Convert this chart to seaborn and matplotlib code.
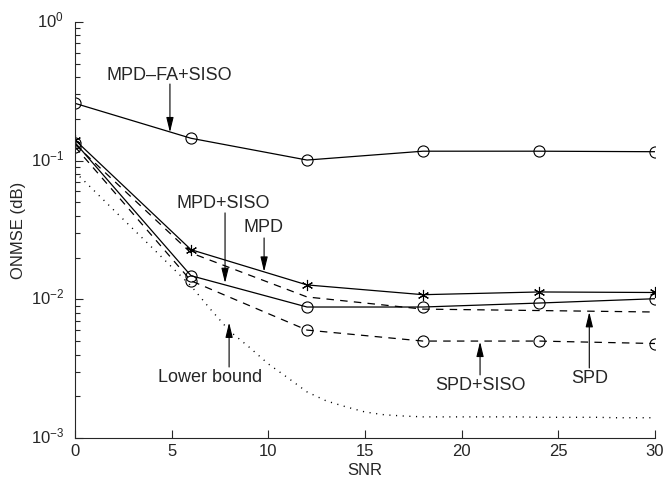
import numpy as np
import pandas as pd
import seaborn as sns
import matplotlib
matplotlib.use("Agg")
import matplotlib.pyplot as plt
import matplotlib.transforms as mtransforms

# data
snr = [0, 6, 12, 18, 24, 30]
mpd_fa_siso = [0.259, 0.145, 0.101, 0.117, 0.117, 0.116]
mpd = [0.141, 0.0228, 0.0127, 0.0108, 0.0113, 0.0112]
mpd_siso = [0.135, 0.0148, 0.0088, 0.0088, 0.0094, 0.0101]
spd = [0.131, 0.0216, 0.0104, 0.0085, 0.0083, 0.0081]
spd_siso = [0.126, 0.0136, 0.0060, 0.0050, 0.0050, 0.0048]

snr_lb = list(range(0, 31))
lower_bound = [0.0829, 0.0605, 0.0441, 0.0322, 0.0235, 0.0171, 0.0125, 0.0085,
               0.0059, 0.00453, 0.00342, 0.00272, 0.00215, 0.00185, 0.00168,
               0.00154, 0.00147, 0.00144, 0.00142, 0.00142, 0.00142, 0.00142,
               0.00142, 0.00142, 0.00141, 0.00141, 0.00141, 0.00141, 0.00140,
               0.00140, 0.00140]

sns.set_style("ticks")
plt.rcParams["font.family"] = ["Liberation Sans", "DejaVu Sans"]
plt.rcParams["mathtext.fontset"] = "custom"
plt.rcParams["mathtext.rm"] = "Liberation Sans"
plt.rcParams["mathtext.it"] = "Liberation Sans:italic"

fig = plt.figure(figsize=(6.65, 4.82), dpi=100)
ax = fig.add_axes([0.1128, 0.0913, 0.8722, 0.8631])

lw = 0.9
circ = dict(marker="o", markersize=8, markerfacecolor="none",
            markeredgecolor="k", markeredgewidth=0.8)
star = dict(marker=(6, 2, 0), markersize=8, markeredgecolor="k",
            markeredgewidth=0.8)

sns.lineplot(x=snr, y=mpd_fa_siso, ax=ax, color="k", lw=lw, **circ)
sns.lineplot(x=snr, y=mpd, ax=ax, color="k", lw=lw, **star)
sns.lineplot(x=snr, y=mpd_siso, ax=ax, color="k", lw=lw, **circ)
sns.lineplot(x=snr, y=spd, ax=ax, color="k", lw=lw, linestyle=(0, (6, 5)))
sns.lineplot(x=snr, y=spd_siso, ax=ax, color="k", lw=lw,
             linestyle=(0, (6, 5)), **circ)
sns.lineplot(x=snr_lb, y=lower_bound, ax=ax, color="k", lw=1.0,
             linestyle=(0, (0.8, 4)))

ax.set_yscale("log")
ax.set_xlim(0, 30)
ax.set_ylim(1e-3, 1)
ax.set_xticks([0, 5, 10, 15, 20, 25, 30])
ax.set_xlabel("SNR", fontsize=12, labelpad=3)
ax.set_ylabel("ONMSE (dB)", fontsize=12, labelpad=3)
ax.tick_params(axis="both", which="major", direction="in", length=6,
               width=0.8, labelsize=12)
ax.tick_params(axis="x", pad=4.5)
ax.tick_params(axis="y", pad=8)
ax.tick_params(axis="y", which="minor", direction="in", length=3.5, width=0.8)
sns.despine(ax=ax)
for s in ["left", "bottom"]:
    ax.spines[s].set_linewidth(0.8)

# MATLAB puts the 10^n labels a little above their ticks
shift = mtransforms.ScaledTranslation(0, 3 / 100, fig.dpi_scale_trans)
for lab in ax.get_yticklabels():
    lab.set_transform(lab.get_transform() + shift)

arrow = dict(arrowstyle="-|>,head_length=0.9,head_width=0.22", color="k",
             lw=0.8, shrinkA=0, shrinkB=0)
# label, text position, arrow x, arrow base y, arrow tip y
notes = [
    ("MPD\u2013FA+SISO", (4.86, 0.414), 4.91, 0.357, 0.160),
    ("MPD+SISO", (7.66, 0.0495), 7.76, 0.0420, 0.0131),
    ("MPD", (9.73, 0.0327), 9.78, 0.0277, 0.0158),
    ("Lower bound", (6.98, 0.00272), 7.97, 0.00325, 0.0068),
    ("SPD+SISO", (20.95, 0.00238), 20.95, 0.00285, 0.00495),
    ("SPD", (26.6, 0.00267), 26.6, 0.0032, 0.0081),
]
for txt, pos, ax_x, base, tip in notes:
    ax.text(pos[0], pos[1], txt, fontsize=13, ha="center", va="center")
    ax.annotate("", xy=(ax_x, tip), xytext=(ax_x, base), arrowprops=arrow)

fig.savefig("out.png", dpi=100)
